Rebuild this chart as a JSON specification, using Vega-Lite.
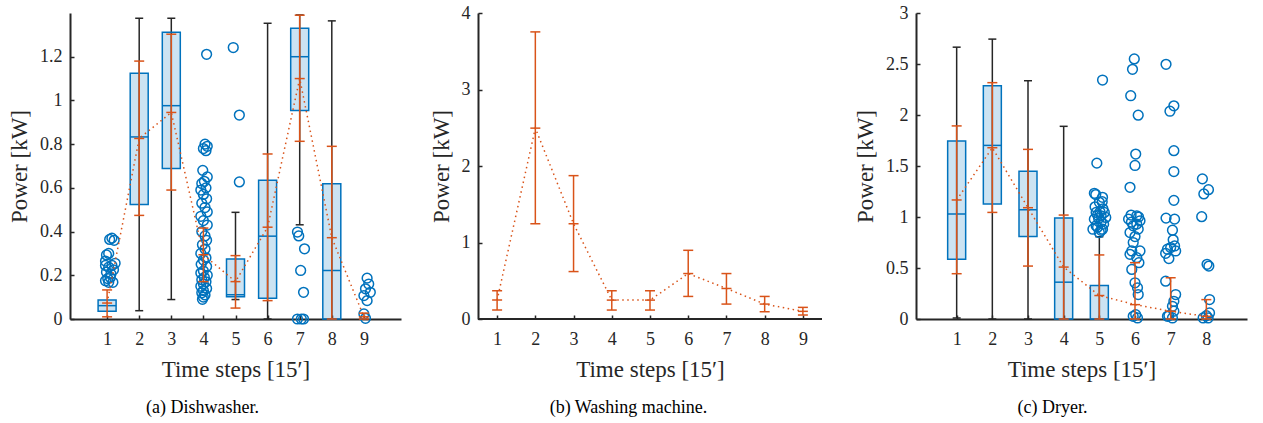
{
"$schema": "https://vega.github.io/schema/vega-lite/v6.json",
"padding": {"left": 8, "top": 4, "right": 5, "bottom": 5},
"background": "white",
"bounds": "flush",
"spacing": 77,
"config": {
  "view": {"stroke": null},
  "axis": {"labelFont": "Liberation Serif", "labelFontSize": 18, "labelColor": "#262626", "titleFont": "Liberation Serif", "titleFontSize": 23, "titleFontWeight": "normal", "titleColor": "#262626", "domainColor": "#262626", "domainWidth": 2, "tickColor": "#262626", "tickWidth": 1.5, "tickSize": -4, "grid": false, "format": "~g"},
  "axisY": {"titlePadding": 8, "labelPadding": 12},
  "axisX": {"titlePadding": 10, "labelPadding": 15},
  "title": {"font": "Liberation Serif", "fontSize": 18, "fontWeight": "normal", "color": "#000000", "orient": "bottom", "offset": 18}
},
"datasets": {
  "boxA": [
    {"x": 1, "q1": 0.035, "q3": 0.087, "med": 0.061, "wlo": null, "whi": null},
    {"x": 2, "q1": 0.524, "q3": 1.124, "med": 0.833, "wlo": 0.038, "whi": 1.376},
    {"x": 3, "q1": 0.688, "q3": 1.312, "med": 0.976, "wlo": 0.089, "whi": 1.376},
    {"x": 5, "q1": 0.102, "q3": 0.275, "med": 0.111, "wlo": 0.089, "whi": 0.488},
    {"x": 6, "q1": 0.095, "q3": 0.635, "med": 0.379, "wlo": 0, "whi": 1.353},
    {"x": 7, "q1": 0.954, "q3": 1.330, "med": 1.200, "wlo": 0.431, "whi": 1.391},
    {"x": 8, "q1": 0, "q3": 0.619, "med": 0.222, "wlo": 0, "whi": 1.364}
  ],
  "errA": [
    {"x": 1, "m": 0.073, "lo": 0.01, "hi": 0.133},
    {"x": 2, "m": 0.826, "lo": 0.474, "hi": 1.18},
    {"x": 3, "m": 0.945, "lo": 0.59, "hi": 1.303},
    {"x": 4, "m": 0.294, "lo": 0.171, "hi": 0.416},
    {"x": 5, "m": 0.171, "lo": 0.05, "hi": 0.29},
    {"x": 6, "m": 0.42, "lo": 0.084, "hi": 0.755},
    {"x": 7, "m": 1.10, "lo": 0.813, "hi": 1.39},
    {"x": 8, "m": 0.372, "lo": 0, "hi": 0.79},
    {"x": 9, "m": 0.01, "lo": 0, "hi": 0.027}
  ],
  "outA": [
    {"x": 1.15, "y": 0.370}, {"x": 1.08, "y": 0.364}, {"x": 1.22, "y": 0.360}, {"x": 0.98, "y": 0.293}, {"x": 1.05, "y": 0.300}, {"x": 0.95, "y": 0.245}, {"x": 1.15, "y": 0.245}, {"x": 1.05, "y": 0.237}, {"x": 1.25, "y": 0.255}, {"x": 0.98, "y": 0.214}, {"x": 1.12, "y": 0.206}, {"x": 1.02, "y": 0.185}, {"x": 1.18, "y": 0.168}, {"x": 1.05, "y": 0.168}, {"x": 0.95, "y": 0.175}, {"x": 1.1, "y": 0.19}, {"x": 1.2, "y": 0.225}, {"x": 0.95, "y": 0.265},
    {"x": 4.1, "y": 1.211}, {"x": 4.05, "y": 0.80}, {"x": 4.12, "y": 0.79}, {"x": 4.0, "y": 0.78}, {"x": 4.08, "y": 0.77}, {"x": 3.98, "y": 0.68}, {"x": 4.12, "y": 0.65}, {"x": 4.03, "y": 0.63}, {"x": 3.95, "y": 0.62}, {"x": 4.08, "y": 0.60}, {"x": 3.92, "y": 0.59}, {"x": 4.0, "y": 0.57}, {"x": 4.1, "y": 0.55}, {"x": 3.95, "y": 0.53}, {"x": 4.05, "y": 0.51}, {"x": 4.12, "y": 0.49}, {"x": 3.92, "y": 0.47}, {"x": 4.0, "y": 0.45}, {"x": 4.12, "y": 0.43}, {"x": 3.95, "y": 0.40}, {"x": 4.05, "y": 0.38}, {"x": 4.1, "y": 0.36}, {"x": 3.97, "y": 0.34}, {"x": 4.05, "y": 0.32}, {"x": 3.92, "y": 0.30}, {"x": 4.08, "y": 0.28}, {"x": 4.0, "y": 0.27}, {"x": 3.93, "y": 0.25}, {"x": 4.1, "y": 0.24}, {"x": 4.0, "y": 0.22}, {"x": 3.92, "y": 0.21}, {"x": 4.12, "y": 0.20}, {"x": 4.03, "y": 0.19}, {"x": 3.95, "y": 0.18}, {"x": 4.08, "y": 0.17}, {"x": 4.0, "y": 0.16}, {"x": 3.92, "y": 0.15}, {"x": 4.1, "y": 0.14}, {"x": 4.0, "y": 0.13}, {"x": 3.95, "y": 0.12}, {"x": 4.05, "y": 0.11}, {"x": 4.0, "y": 0.10}, {"x": 3.97, "y": 0.09},
    {"x": 4.93, "y": 1.242}, {"x": 5.12, "y": 0.933}, {"x": 5.12, "y": 0.627},
    {"x": 6.93, "y": 0.398}, {"x": 6.97, "y": 0.38}, {"x": 7.15, "y": 0.321}, {"x": 7.03, "y": 0.222}, {"x": 7.12, "y": 0.122}, {"x": 6.93, "y": 0.0}, {"x": 7.05, "y": 0.0}, {"x": 7.12, "y": 0.0},
    {"x": 9.1, "y": 0.187}, {"x": 9.15, "y": 0.16}, {"x": 9.05, "y": 0.138}, {"x": 9.2, "y": 0.122}, {"x": 9.0, "y": 0.107}, {"x": 9.1, "y": 0.084}, {"x": 9.0, "y": 0.023}, {"x": 9.05, "y": 0.003}
  ],
  "errB": [
    {"x": 1, "m": 0.247, "lo": 0.117, "hi": 0.369},
    {"x": 2, "m": 2.495, "lo": 1.245, "hi": 3.753},
    {"x": 3, "m": 1.245, "lo": 0.62, "hi": 1.874},
    {"x": 4, "m": 0.247, "lo": 0.117, "hi": 0.369},
    {"x": 5, "m": 0.247, "lo": 0.117, "hi": 0.369},
    {"x": 6, "m": 0.594, "lo": 0.295, "hi": 0.898},
    {"x": 7, "m": 0.399, "lo": 0.195, "hi": 0.594},
    {"x": 8, "m": 0.195, "lo": 0.095, "hi": 0.295},
    {"x": 9, "m": 0.1, "lo": 0.052, "hi": 0.152}
  ],
  "baseB": [{"x": 0.5, "x2": 9.5, "y": 0}],
  "boxC": [
    {"x": 1, "q1": 0.585, "q3": 1.745, "med": 1.029, "wlo": 0.01, "whi": 2.665},
    {"x": 2, "q1": 1.127, "q3": 2.287, "med": 1.702, "wlo": 0, "whi": 2.744},
    {"x": 3, "q1": 0.808, "q3": 1.449, "med": 1.071, "wlo": 0, "whi": 2.336},
    {"x": 4, "q1": 0, "q3": 0.989, "med": 0.361, "wlo": 0, "whi": 1.889},
    {"x": 5, "q1": 0, "q3": 0.329, "med": null, "wlo": 0, "whi": 0.806}
  ],
  "errC": [
    {"x": 1, "m": 1.167, "lo": 0.444, "hi": 1.893},
    {"x": 2, "m": 1.679, "lo": 1.045, "hi": 2.317},
    {"x": 3, "m": 1.091, "lo": 0.519, "hi": 1.663},
    {"x": 4, "m": 0.509, "lo": 0, "hi": 1.019},
    {"x": 5, "m": 0.23, "lo": 0, "hi": 0.628},
    {"x": 6, "m": 0.141, "lo": 0, "hi": 0.552},
    {"x": 7, "m": 0.076, "lo": 0, "hi": 0.404},
    {"x": 8, "m": 0.026, "lo": 0, "hi": 0.19}
  ],
  "outC": [
    {"x": 5.09, "y": 2.343}, {"x": 4.93, "y": 1.528}, {"x": 4.86, "y": 1.232}, {"x": 5.09, "y": 1.193}, {"x": 5.0, "y": 1.144}, {"x": 4.91, "y": 1.045}, {"x": 5.05, "y": 1.012}, {"x": 5.14, "y": 1.045}, {"x": 4.86, "y": 0.979}, {"x": 4.98, "y": 0.985}, {"x": 5.18, "y": 0.996}, {"x": 4.82, "y": 0.88}, {"x": 5.0, "y": 0.848}, {"x": 5.09, "y": 0.88}, {"x": 4.91, "y": 0.914}, {"x": 5.05, "y": 0.95}, {"x": 4.95, "y": 1.02}, {"x": 5.1, "y": 1.08}, {"x": 4.88, "y": 1.1}, {"x": 5.02, "y": 1.05}, {"x": 5.12, "y": 0.93}, {"x": 4.95, "y": 0.9}, {"x": 5.05, "y": 0.87}, {"x": 4.9, "y": 1.22}, {"x": 5.08, "y": 1.15},
    {"x": 5.98, "y": 2.55}, {"x": 5.93, "y": 2.448}, {"x": 5.88, "y": 2.189}, {"x": 6.09, "y": 1.998}, {"x": 6.02, "y": 1.617}, {"x": 6.0, "y": 1.505}, {"x": 5.86, "y": 1.291}, {"x": 5.89, "y": 1.019}, {"x": 6.05, "y": 1.012}, {"x": 6.14, "y": 0.963}, {"x": 5.82, "y": 0.979}, {"x": 5.95, "y": 0.914}, {"x": 6.09, "y": 0.881}, {"x": 5.86, "y": 0.848}, {"x": 6.0, "y": 0.808}, {"x": 5.91, "y": 0.667}, {"x": 6.14, "y": 0.667}, {"x": 5.86, "y": 0.634}, {"x": 6.05, "y": 0.601}, {"x": 6.11, "y": 0.552}, {"x": 5.91, "y": 0.486}, {"x": 6.0, "y": 0.355}, {"x": 6.07, "y": 0.306}, {"x": 6.09, "y": 0.24}, {"x": 6.02, "y": 0.043}, {"x": 6.07, "y": 0.01}, {"x": 5.95, "y": 0.026}, {"x": 5.9, "y": 0.95}, {"x": 6.1, "y": 1.0}, {"x": 5.95, "y": 0.75}, {"x": 6.05, "y": 0.93},
    {"x": 6.87, "y": 2.497}, {"x": 7.09, "y": 2.09}, {"x": 6.98, "y": 2.037}, {"x": 7.09, "y": 1.65}, {"x": 7.09, "y": 1.446}, {"x": 7.09, "y": 1.163}, {"x": 6.87, "y": 0.989}, {"x": 7.11, "y": 0.979}, {"x": 7.05, "y": 0.871}, {"x": 7.07, "y": 0.776}, {"x": 7.11, "y": 0.716}, {"x": 7.0, "y": 0.70}, {"x": 6.91, "y": 0.684}, {"x": 7.14, "y": 0.667}, {"x": 6.86, "y": 0.644}, {"x": 6.95, "y": 0.592}, {"x": 6.86, "y": 0.371}, {"x": 7.14, "y": 0.24}, {"x": 7.09, "y": 0.174}, {"x": 7.05, "y": 0.125}, {"x": 7.09, "y": 0.076}, {"x": 6.91, "y": 0.026}, {"x": 7.05, "y": 0.01}, {"x": 6.95, "y": 0.033},
    {"x": 7.89, "y": 1.374}, {"x": 8.06, "y": 1.268}, {"x": 7.93, "y": 1.226}, {"x": 7.87, "y": 1.003}, {"x": 8.02, "y": 0.536}, {"x": 8.07, "y": 0.519}, {"x": 8.09, "y": 0.191}, {"x": 8.09, "y": 0.059}, {"x": 8.0, "y": 0.033}, {"x": 7.91, "y": 0.01}, {"x": 8.05, "y": 0.01}
  ]
},
"hconcat": [
  {
    "width": 331, "height": 306,
    "title": {"text": "(a) Dishwasher.", "dx": -33},
    "encoding": {"x": {"field": "x", "type": "quantitative", "scale": {"domain": [0, 10], "nice": false, "zero": false}, "axis": {"values": [1,2,3,4,5,6,7,8,9], "title": "Time steps [15′]"}}},
    "layer": [
      {"data": {"name": "boxA"}, "transform": [{"filter": "isValid(datum.whi)"}], "mark": {"type": "rule", "color": "#262626", "strokeWidth": 1.5},
       "encoding": {"y": {"field": "wlo", "type": "quantitative", "scale": {"domain": [0, 1.4], "nice": false}, "axis": {"values": [0,0.2,0.4,0.6,0.8,1,1.2], "title": "Power [kW]"}}, "y2": {"field": "whi"}}},
      {"data": {"name": "boxA"}, "transform": [{"filter": "isValid(datum.whi)"}], "mark": {"type": "tick", "orient": "horizontal", "size": 8, "thickness": 1.5, "color": "#262626", "opacity": 1},
       "encoding": {"y": {"field": "whi", "type": "quantitative", "scale": {"domain": [0, 1.4], "nice": false}, "axis": {"values": [0,0.2,0.4,0.6,0.8,1,1.2], "title": "Power [kW]"}}}},
      {"data": {"name": "boxA"}, "transform": [{"filter": "isValid(datum.wlo)"}], "mark": {"type": "tick", "orient": "horizontal", "size": 8, "thickness": 1.5, "color": "#262626", "opacity": 1},
       "encoding": {"y": {"field": "wlo", "type": "quantitative", "scale": {"domain": [0, 1.4], "nice": false}, "axis": {"values": [0,0.2,0.4,0.6,0.8,1,1.2], "title": "Power [kW]"}}}},
      {"data": {"name": "boxA"}, "mark": {"type": "bar", "size": 18, "fill": "#0072BD", "fillOpacity": 0.2, "stroke": "#0072BD", "strokeWidth": 1.5},
       "encoding": {"y": {"field": "q1", "type": "quantitative", "scale": {"domain": [0, 1.4], "nice": false}, "axis": {"values": [0,0.2,0.4,0.6,0.8,1,1.2], "title": "Power [kW]"}}, "y2": {"field": "q3"}}},
      {"data": {"name": "boxA"}, "transform": [{"filter": "isValid(datum.med)"}], "mark": {"type": "tick", "orient": "horizontal", "size": 18, "thickness": 1.5, "color": "#0072BD", "opacity": 1},
       "encoding": {"y": {"field": "med", "type": "quantitative", "scale": {"domain": [0, 1.4], "nice": false}, "axis": {"values": [0,0.2,0.4,0.6,0.8,1,1.2], "title": "Power [kW]"}}}},
      {"data": {"name": "outA"}, "mark": {"type": "point", "shape": "circle", "filled": false, "color": "#0072BD", "size": 95, "strokeWidth": 1.5, "opacity": 1},
       "encoding": {"y": {"field": "y", "type": "quantitative", "scale": {"domain": [0, 1.4], "nice": false}, "axis": {"values": [0,0.2,0.4,0.6,0.8,1,1.2], "title": "Power [kW]"}}}},
      {"data": {"name": "errA"}, "mark": {"type": "line", "color": "#D95319", "strokeWidth": 1.5, "strokeDash": [1.5, 3.5]},
       "encoding": {"y": {"field": "m", "type": "quantitative", "scale": {"domain": [0, 1.4], "nice": false}, "axis": {"values": [0,0.2,0.4,0.6,0.8,1,1.2], "title": "Power [kW]"}}}},
      {"data": {"name": "errA"}, "mark": {"type": "rule", "color": "#D95319", "strokeWidth": 1.5},
       "encoding": {"y": {"field": "lo", "type": "quantitative", "scale": {"domain": [0, 1.4], "nice": false}, "axis": {"values": [0,0.2,0.4,0.6,0.8,1,1.2], "title": "Power [kW]"}}, "y2": {"field": "hi"}}},
      {"data": {"name": "errA"}, "mark": {"type": "tick", "orient": "horizontal", "size": 10, "thickness": 1.5, "color": "#D95319", "opacity": 1},
       "encoding": {"y": {"field": "lo", "type": "quantitative", "scale": {"domain": [0, 1.4], "nice": false}, "axis": {"values": [0,0.2,0.4,0.6,0.8,1,1.2], "title": "Power [kW]"}}}},
      {"data": {"name": "errA"}, "mark": {"type": "tick", "orient": "horizontal", "size": 10, "thickness": 1.5, "color": "#D95319", "opacity": 1},
       "encoding": {"y": {"field": "hi", "type": "quantitative", "scale": {"domain": [0, 1.4], "nice": false}, "axis": {"values": [0,0.2,0.4,0.6,0.8,1,1.2], "title": "Power [kW]"}}}},
      {"data": {"name": "errA"}, "mark": {"type": "tick", "orient": "horizontal", "size": 10, "thickness": 1.5, "color": "#D95319", "opacity": 1},
       "encoding": {"y": {"field": "m", "type": "quantitative", "scale": {"domain": [0, 1.4], "nice": false}, "axis": {"values": [0,0.2,0.4,0.6,0.8,1,1.2], "title": "Power [kW]"}}}}
    ]
  },
  {
    "width": 361, "height": 306,
    "title": {"text": "(b) Washing machine.", "dx": -30},
    "encoding": {"x": {"field": "x", "type": "quantitative", "scale": {"domain": [0.5, 9.9448], "nice": false, "zero": false}, "axis": {"values": [1,2,3,4,5,6,7,8,9], "title": "Time steps [15′]", "domain": false, "titleX": 172}}},
    "layer": [
      {"data": {"name": "baseB"}, "mark": {"type": "rule", "color": "#262626", "strokeWidth": 2},
       "encoding": {"x2": {"field": "x2"}, "y": {"field": "y", "type": "quantitative", "scale": {"domain": [0, 4], "nice": false}, "axis": {"values": [0,1,2,3,4], "title": "Power [kW]"}}}},
      {"data": {"name": "errB"}, "mark": {"type": "line", "color": "#D95319", "strokeWidth": 1.5, "strokeDash": [1.5, 3.5]},
       "encoding": {"y": {"field": "m", "type": "quantitative", "scale": {"domain": [0, 4], "nice": false}, "axis": {"values": [0,1,2,3,4], "title": "Power [kW]"}}}},
      {"data": {"name": "errB"}, "mark": {"type": "rule", "color": "#D95319", "strokeWidth": 1.5},
       "encoding": {"y": {"field": "lo", "type": "quantitative", "scale": {"domain": [0, 4], "nice": false}, "axis": {"values": [0,1,2,3,4], "title": "Power [kW]"}}, "y2": {"field": "hi"}}},
      {"data": {"name": "errB"}, "mark": {"type": "tick", "orient": "horizontal", "size": 10, "thickness": 1.5, "color": "#D95319", "opacity": 1},
       "encoding": {"y": {"field": "lo", "type": "quantitative", "scale": {"domain": [0, 4], "nice": false}, "axis": {"values": [0,1,2,3,4], "title": "Power [kW]"}}}},
      {"data": {"name": "errB"}, "mark": {"type": "tick", "orient": "horizontal", "size": 10, "thickness": 1.5, "color": "#D95319", "opacity": 1},
       "encoding": {"y": {"field": "hi", "type": "quantitative", "scale": {"domain": [0, 4], "nice": false}, "axis": {"values": [0,1,2,3,4], "title": "Power [kW]"}}}},
      {"data": {"name": "errB"}, "mark": {"type": "tick", "orient": "horizontal", "size": 10, "thickness": 1.5, "color": "#D95319", "opacity": 1},
       "encoding": {"y": {"field": "m", "type": "quantitative", "scale": {"domain": [0, 4], "nice": false}, "axis": {"values": [0,1,2,3,4], "title": "Power [kW]"}}}}
    ]
  },
  {
    "width": 331, "height": 306,
    "title": {"text": "(c) Dryer.", "dx": -29},
    "encoding": {"x": {"field": "x", "type": "quantitative", "scale": {"domain": [0, 9], "nice": false, "zero": false}, "axis": {"values": [1,2,3,4,5,6,7,8], "title": "Time steps [15′]"}}},
    "layer": [
      {"data": {"name": "boxC"}, "mark": {"type": "rule", "color": "#262626", "strokeWidth": 1.5},
       "encoding": {"y": {"field": "wlo", "type": "quantitative", "scale": {"domain": [0, 3], "nice": false}, "axis": {"values": [0,0.5,1,1.5,2,2.5,3], "title": "Power [kW]"}}, "y2": {"field": "whi"}}},
      {"data": {"name": "boxC"}, "mark": {"type": "tick", "orient": "horizontal", "size": 8, "thickness": 1.5, "color": "#262626", "opacity": 1},
       "encoding": {"y": {"field": "whi", "type": "quantitative", "scale": {"domain": [0, 3], "nice": false}, "axis": {"values": [0,0.5,1,1.5,2,2.5,3], "title": "Power [kW]"}}}},
      {"data": {"name": "boxC"}, "mark": {"type": "tick", "orient": "horizontal", "size": 8, "thickness": 1.5, "color": "#262626", "opacity": 1},
       "encoding": {"y": {"field": "wlo", "type": "quantitative", "scale": {"domain": [0, 3], "nice": false}, "axis": {"values": [0,0.5,1,1.5,2,2.5,3], "title": "Power [kW]"}}}},
      {"data": {"name": "boxC"}, "mark": {"type": "bar", "size": 18, "fill": "#0072BD", "fillOpacity": 0.2, "stroke": "#0072BD", "strokeWidth": 1.5},
       "encoding": {"y": {"field": "q1", "type": "quantitative", "scale": {"domain": [0, 3], "nice": false}, "axis": {"values": [0,0.5,1,1.5,2,2.5,3], "title": "Power [kW]"}}, "y2": {"field": "q3"}}},
      {"data": {"name": "boxC"}, "transform": [{"filter": "isValid(datum.med)"}], "mark": {"type": "tick", "orient": "horizontal", "size": 18, "thickness": 1.5, "color": "#0072BD", "opacity": 1},
       "encoding": {"y": {"field": "med", "type": "quantitative", "scale": {"domain": [0, 3], "nice": false}, "axis": {"values": [0,0.5,1,1.5,2,2.5,3], "title": "Power [kW]"}}}},
      {"data": {"name": "outC"}, "mark": {"type": "point", "shape": "circle", "filled": false, "color": "#0072BD", "size": 95, "strokeWidth": 1.5, "opacity": 1},
       "encoding": {"y": {"field": "y", "type": "quantitative", "scale": {"domain": [0, 3], "nice": false}, "axis": {"values": [0,0.5,1,1.5,2,2.5,3], "title": "Power [kW]"}}}},
      {"data": {"name": "errC"}, "mark": {"type": "line", "color": "#D95319", "strokeWidth": 1.5, "strokeDash": [1.5, 3.5]},
       "encoding": {"y": {"field": "m", "type": "quantitative", "scale": {"domain": [0, 3], "nice": false}, "axis": {"values": [0,0.5,1,1.5,2,2.5,3], "title": "Power [kW]"}}}},
      {"data": {"name": "errC"}, "mark": {"type": "rule", "color": "#D95319", "strokeWidth": 1.5},
       "encoding": {"y": {"field": "lo", "type": "quantitative", "scale": {"domain": [0, 3], "nice": false}, "axis": {"values": [0,0.5,1,1.5,2,2.5,3], "title": "Power [kW]"}}, "y2": {"field": "hi"}}},
      {"data": {"name": "errC"}, "mark": {"type": "tick", "orient": "horizontal", "size": 10, "thickness": 1.5, "color": "#D95319", "opacity": 1},
       "encoding": {"y": {"field": "lo", "type": "quantitative", "scale": {"domain": [0, 3], "nice": false}, "axis": {"values": [0,0.5,1,1.5,2,2.5,3], "title": "Power [kW]"}}}},
      {"data": {"name": "errC"}, "mark": {"type": "tick", "orient": "horizontal", "size": 10, "thickness": 1.5, "color": "#D95319", "opacity": 1},
       "encoding": {"y": {"field": "hi", "type": "quantitative", "scale": {"domain": [0, 3], "nice": false}, "axis": {"values": [0,0.5,1,1.5,2,2.5,3], "title": "Power [kW]"}}}},
      {"data": {"name": "errC"}, "mark": {"type": "tick", "orient": "horizontal", "size": 10, "thickness": 1.5, "color": "#D95319", "opacity": 1},
       "encoding": {"y": {"field": "m", "type": "quantitative", "scale": {"domain": [0, 3], "nice": false}, "axis": {"values": [0,0.5,1,1.5,2,2.5,3], "title": "Power [kW]"}}}}
    ]
  }
]
}
